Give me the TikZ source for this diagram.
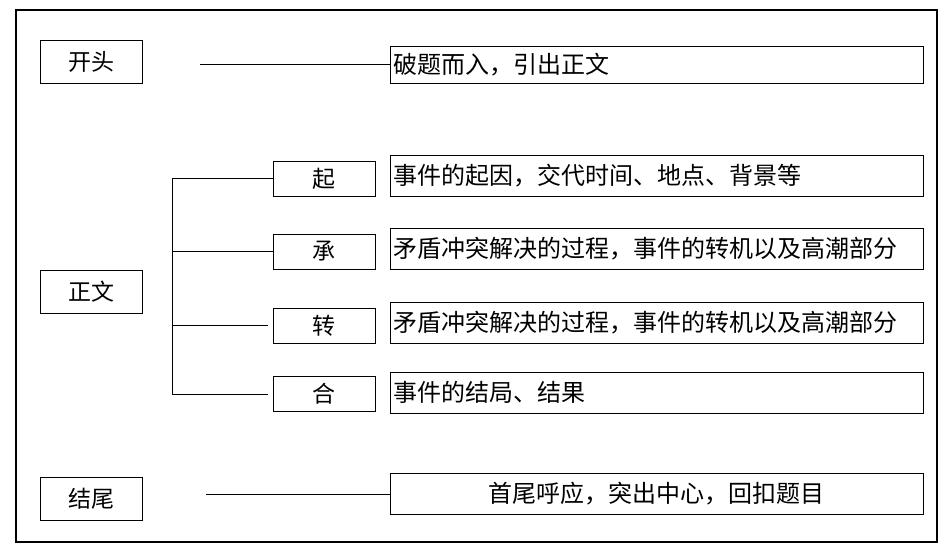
\documentclass[tikz,border=0pt]{standalone}
\usepackage{fontspec}
\setmainfont{Noto Sans CJK SC}
\tikzset{
  voce/.style={draw, line width=1pt, minimum width=102pt, minimum height=43pt, inner sep=0pt, font=\fontsize{23}{27}\selectfont},
  fase/.style={draw, line width=1pt, minimum width=102pt, minimum height=35pt, inner sep=0pt, font=\fontsize{23}{27}\selectfont},
  testo/.style={draw, line width=1pt, minimum width=533pt, minimum height=41pt, inner xsep=3pt, inner ysep=0pt, text width=527pt, align=left, font=\fontsize{24}{28}\selectfont},
  ramo/.style={line width=1pt},
}
\begin{document}
\begin{tikzpicture}[x=1pt, y=-1pt]
\useasboundingbox (0,0) rectangle (949,555);
\draw[line width=1.2pt] (16,10) rectangle (937,542); % cornice esterna
% colonna di sinistra
\node[voce] (kaitou) at (91,61.5) {开头};
\node[voce] (zhengwen) at (91,291.5) {正文};
\node[voce] (jiewei) at (91,498.5) {结尾};
% le quattro fasi
\node[fase] (qi) at (324,178.5) {起};
\node[fase] (cheng) at (324,251.5) {承};
\node[fase] (zhuan) at (324,325.5) {转};
\node[fase] (he) at (324,394) {合};
% testi a destra
\node[testo, minimum height=37pt] (t-kaitou) at (656.5,64.5) {破题而入，引出正文};
\node[testo] (t-qi) at (656.5,175.5) {事件的起因，交代时间、地点、背景等};
\node[testo] (t-cheng) at (656.5,249) {矛盾冲突解决的过程，事件的转机以及高潮部分};
\node[testo] (t-zhuan) at (656.5,322.5) {矛盾冲突解决的过程，事件的转机以及高潮部分};
\node[testo] (t-he) at (656.5,392.5) {事件的结局、结果};
\node[testo, align=center] (t-jiewei) at (656.5,494) {首尾呼应，突出中心，回扣题目};
% linee di collegamento
\coordinate (l-kaitou) at (200,64.5);
\coordinate (l-jiewei) at (206,494);
\coordinate (tronco) at (172,178.5);
\draw[ramo] (l-kaitou) -- (t-kaitou.west);
\draw[ramo] (l-jiewei) -- (t-jiewei.west);
\draw[ramo] (qi.west) -- (tronco) |- ([xshift=-5pt]he.west); % tronco verticale
\draw[ramo] (tronco |- cheng.west) -- (cheng.west);
\draw[ramo] (tronco |- zhuan.west) -- ([xshift=-5pt]zhuan.west);
\end{tikzpicture}
\end{document}
